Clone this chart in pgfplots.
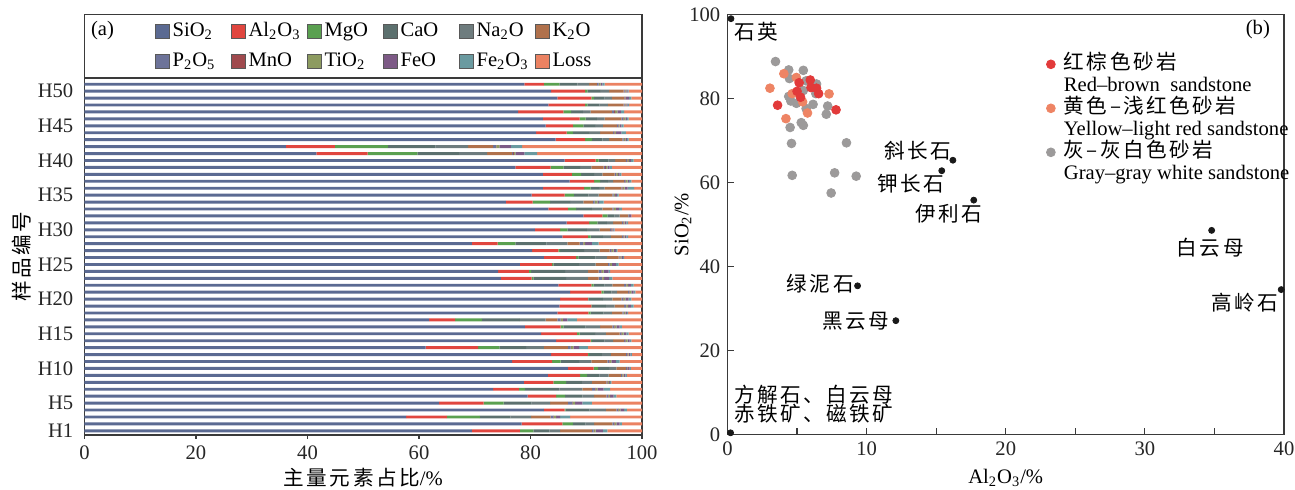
\documentclass[border=0pt]{standalone}
\usepackage{fontspec}
\setmainfont{Liberation Serif}
\newfontfamily\cjk{Noto Sans CJK SC}[LetterSpace=12]
\usepackage{pgfplots}
\pgfplotsset{compat=1.18}
\usepackage{pgfplotstable}

\definecolor{cSi}{HTML}{5B6A92}
\definecolor{cAl}{HTML}{E0463F}
\definecolor{cMg}{HTML}{5AA050}
\definecolor{cCa}{HTML}{5C706E}
\definecolor{cNa}{HTML}{6E7C7E}
\definecolor{cK}{HTML}{B0714C}
\definecolor{cP}{HTML}{6D7399}
\definecolor{cMn}{HTML}{A04A4E}
\definecolor{cTi}{HTML}{8D9B60}
\definecolor{cFeO}{HTML}{7D5A86}
\definecolor{cFe}{HTML}{6A9AA0}
\definecolor{cLoss}{HTML}{EB8262}
\definecolor{pRed}{HTML}{E23A3A}
\definecolor{pOra}{HTML}{EE8464}
\definecolor{pGry}{HTML}{9C9A9A}
\definecolor{axc}{HTML}{3A3A3A}

\pgfplotstableread{
idx Si Al Mg Ca Na K P Mn Ti FeO Fe Loss
1 69.5 8.6 2.4 2.9 1.9 5.7 0.3 0.1 0.3 1.3 0.8 6.2
2 78.4 7.3 1.9 2.3 1.5 3.3 0.3 0.1 0.3 0.6 0.4 3.6
3 57.7 7.3 5.9 5.5 3.7 3.5 0.5 0.1 0.4 0.7 1.8 12.9
4 82.4 3.7 0.2 4.3 2.9 1.9 0.3 0.1 0.3 0.7 0.5 2.7
5 63.6 8.0 3.6 5.0 3.3 3.2 0.8 0.1 0.4 1.3 1.7 9.0
6 79.5 5.1 1.6 3.1 2.1 2.2 0.3 0.1 0.3 0.6 0.5 4.6
7 73.3 4.6 1.1 6.2 4.1 1.7 0.6 0.1 0.3 1.1 1.2 5.7
8 78.8 5.3 2.3 2.8 1.8 2.6 0.2 0.1 0.2 0.2 0.2 5.5
9 83.1 5.8 1.2 2.3 1.6 2.2 0.2 0.1 0.2 0.3 0.3 2.7
10 86.7 4.6 0.8 2.0 1.3 1.7 0.2 0.1 0.1 0.3 0.2 2.0
11 76.7 7.2 1.5 3.3 2.2 2.9 0.3 0.1 0.3 0.8 0.7 4.0
12 83.7 6.6 0.2 2.3 1.6 2.7 0.2 0.1 0.2 0.3 0.3 1.8
13 61.2 9.4 3.8 4.8 3.2 4.3 0.5 0.1 0.4 1.0 1.6 9.7
14 84.6 6.2 0.2 2.3 1.5 2.0 0.2 0.1 0.3 0.4 0.3 1.9
15 81.9 6.4 0.5 2.8 1.9 2.5 0.3 0.1 0.3 0.5 0.4 2.4
16 79.0 6.4 0.5 4.0 2.6 2.2 0.3 0.1 0.3 0.6 0.4 3.6
17 61.8 4.7 4.8 6.8 4.6 2.1 0.6 0.1 0.3 0.8 1.7 11.7
18 84.8 5.6 0.4 2.3 1.5 1.9 0.2 0.1 0.2 0.3 0.2 2.5
19 85.2 5.7 0.1 2.5 1.6 1.7 0.3 0.1 0.3 0.5 0.5 1.5
20 85.3 5.0 0.1 2.6 1.7 1.6 0.3 0.1 0.3 0.6 0.5 1.9
21 87.1 5.6 0.4 1.4 1.0 2.0 0.2 0.1 0.3 0.4 0.3 1.2
22 85.0 5.9 0.4 2.0 1.4 2.1 0.3 0.1 0.3 0.5 0.5 1.5
23 74.7 5.5 0.3 5.9 3.9 1.9 0.6 0.1 0.3 0.9 0.6 5.3
24 74.2 5.5 0.4 6.1 4.1 1.9 0.5 0.1 0.3 0.9 0.3 5.7
25 78.1 5.8 0.2 4.6 3.0 2.2 0.3 0.1 0.3 0.7 0.5 4.2
26 82.4 5.8 0.4 3.1 2.0 2.1 0.2 0.1 0.2 0.3 0.2 3.2
27 80.3 4.7 0.3 4.3 2.8 1.8 0.3 0.1 0.3 0.4 0.3 4.4
28 69.5 4.6 3.2 5.6 3.7 2.2 0.6 0.1 0.3 1.2 1.2 7.8
29 85.7 4.6 0.5 2.2 1.4 2.0 0.2 0.1 0.2 0.3 0.3 2.5
30 80.8 4.5 1.3 3.5 2.3 1.9 0.2 0.1 0.1 0.2 0.2 4.9
31 86.5 4.0 1.5 1.7 1.1 1.6 0.2 0.1 0.2 0.3 0.3 2.5
32 89.5 3.4 0.9 1.3 0.9 1.5 0.1 0.0 0.1 0.4 0.0 1.9
33 83.2 3.5 1.5 2.8 1.9 1.8 0.2 0.1 0.3 0.6 0.5 3.6
34 75.6 4.8 3.1 3.6 2.4 1.7 0.3 0.1 0.4 0.3 0.8 6.9
35 80.2 5.9 1.7 2.6 1.8 2.5 0.2 0.1 0.2 0.3 0.3 4.2
36 82.2 7.4 1.2 1.5 1.0 3.0 0.2 0.1 0.3 0.5 1.2 1.4
37 87.0 4.4 1.1 1.4 0.9 2.0 0.2 0.1 0.3 0.3 0.4 1.9
38 82.2 5.2 1.7 2.3 1.5 2.2 0.2 0.1 0.3 0.3 0.3 3.7
39 77.3 6.3 2.3 3.0 2.0 2.2 0.3 0.1 0.3 0.4 0.4 5.4
40 86.1 5.6 0.5 1.8 1.2 1.9 0.2 0.1 0.3 0.3 0.5 1.5
41 41.6 9.2 8.9 7.5 5.0 4.5 0.2 0.1 0.3 1.6 2.3 18.8
42 36.1 8.8 9.5 8.6 5.8 4.5 0.5 0.1 0.5 2.1 2.0 21.5
43 84.5 5.3 1.2 1.9 1.2 2.4 0.2 0.1 0.2 0.3 0.3 2.4
44 81.0 5.5 1.1 2.9 2.0 2.3 0.2 0.1 0.2 1.0 0.8 2.9
45 82.7 4.9 1.9 2.1 1.4 2.5 0.2 0.1 0.2 0.3 0.4 3.3
46 82.2 6.6 1.1 2.0 1.4 3.0 0.3 0.1 0.3 0.3 0.3 2.4
47 77.8 8.1 1.4 2.1 1.4 3.8 0.4 0.2 0.4 0.6 0.6 3.2
48 83.2 6.6 0.4 2.2 1.5 2.8 0.2 0.1 0.2 0.2 0.3 2.3
49 84.8 6.1 0.5 1.9 1.3 2.2 0.1 0.1 0.1 0.6 0.4 1.9
50 83.7 6.1 0.4 2.3 1.6 2.6 0.2 0.1 0.2 0.2 0.2 2.4
51 78.9 3.5 2.8 3.2 2.1 1.4 0.3 0.1 0.3 0.3 0.4 6.7
}\dataA

\pgfplotstableread{
x y
5.15 83.75
5.95 84.4
6.00 82.6
6.40 82.45
6.55 81.15
5.00 81.7
5.25 80.3
3.60 78.4
7.80 77.3
}\redpts

\pgfplotstableread{
x y
4.05 85.9
4.95 85.0
3.05 82.45
4.65 81.15
7.30 81.1
5.40 79.2
5.75 76.55
4.20 75.2
}\orapts

\pgfplotstableread{
x y
3.45 88.8
4.40 86.8
5.45 86.7
4.45 84.75
5.65 84.2
6.40 83.45
5.45 81.9
6.35 81.15
4.40 80.5
4.55 79.4
4.95 78.85
6.15 78.6
5.65 77.6
7.20 78.2
7.10 76.25
5.30 74.25
5.45 73.6
4.50 73.1
4.60 69.3
8.55 69.45
4.65 61.7
7.70 62.3
9.25 61.5
7.45 57.5
}\grypts

\pgfplotstableread{
x y
0.25 99.0
16.2 65.3
15.4 62.8
17.7 55.8
34.8 48.6
39.8 34.5
9.35 35.4
12.1 27.1
0.22 0.4
}\minpts

\pgfplotsset{
  sq/.style={legend image code/.code={\draw[##1, draw=black!65, line width=0.4pt] (0pt,-3.4pt) rectangle (6.8pt,3.4pt);}},
}

\begin{document}
\fontsize{10.3}{12.4}\selectfont
\begin{tikzpicture}
\useasboundingbox (-42.25pt,-27.5pt) rectangle (605.25pt,217.5pt);

% ---------------- panel (a) ----------------
\begin{axis}[
  at={(0pt,0pt)}, anchor=south west,
  scale only axis, width=278.75pt, height=178.5pt,
  clip=false,
  xbar stacked, bar width=0.42,
  xmin=0, xmax=100, ymin=0.4, ymax=51.9,
  xtick={0,20,...,100},
  ytick={1,5,10,15,20,25,30,35,40,45,50},
  yticklabels={H1,H5,H10,H15,H20,H25,H30,H35,H40,H45,H50},
  tick pos=left, tick align=outside, major tick length=2pt,
  ytick style={draw=none},
  xtick style={axc, line width=0.6pt},
  axis line style={axc, line width=0.7pt},
  /pgf/number format/assume math mode=true,
  tick label style={black!85},
  xlabel={{\cjk 主量元素占比}/\%},
  xlabel style={at={(axis description cs:0.5,-0.1204)}, anchor=center},
  ylabel={{\cjk 样品编号}},
  ylabel style={at={(axis description cs:-0.112,0.5)}, anchor=center},
  legend columns=6,
  legend style={draw=none, fill=none, at={(0.1261,1.1639)}, anchor=north west,
    inner sep=0pt, column sep=0pt, row sep=3.5pt,
    nodes={text width=27.8pt, align=left, text height=8pt, text depth=2.5pt,
      inner xsep=1.5pt, inner ysep=0.5pt}},
]
\addplot[fill=cSi, draw=none, sq] table[x=Si, y=idx]{\dataA};
\addplot[fill=cAl, draw=none, sq] table[x=Al, y=idx]{\dataA};
\addplot[fill=cMg, draw=none, sq] table[x=Mg, y=idx]{\dataA};
\addplot[fill=cCa, draw=none, sq] table[x=Ca, y=idx]{\dataA};
\addplot[fill=cNa, draw=none, sq] table[x=Na, y=idx]{\dataA};
\addplot[fill=cK, draw=none, sq] table[x=K, y=idx]{\dataA};
\addplot[fill=cP, draw=none, sq] table[x=P, y=idx]{\dataA};
\addplot[fill=cMn, draw=none, sq] table[x=Mn, y=idx]{\dataA};
\addplot[fill=cTi, draw=none, sq] table[x=Ti, y=idx]{\dataA};
\addplot[fill=cFeO, draw=none, sq] table[x=FeO, y=idx]{\dataA};
\addplot[fill=cFe, draw=none, sq] table[x=Fe, y=idx]{\dataA};
\addplot[fill=cLoss, draw=none, sq] table[x=Loss, y=idx]{\dataA};
\legend{SiO\textsubscript{2}, Al\textsubscript{2}O\textsubscript{3}, MgO, CaO, Na\textsubscript{2}O, K\textsubscript{2}O,
  P\textsubscript{2}O\textsubscript{5}, MnO, TiO\textsubscript{2}, FeO, Fe\textsubscript{2}O\textsubscript{3}, Loss}
\draw[axc, line width=0.7pt] (rel axis cs:0,1) rectangle (rel axis cs:1,1.1779);
\node[anchor=west, inner sep=0pt] at (rel axis cs:0.011,1.1317) {(a)};
\end{axis}

% ---------------- panel (b) ----------------
\begin{axis}[
  at={(321.5pt,0.25pt)}, anchor=south west,
  scale only axis, width=278.25pt, height=210pt,
  clip=false,
  xmin=0, xmax=40, ymin=0, ymax=100,
  xtick={0,10,...,40}, minor xtick={5,15,25,35},
  ytick={0,20,...,100},
  tick pos=left, tick align=inside,
  major tick length=3pt, minor tick length=3pt,
  every tick/.style={axc, line width=0.6pt},
  axis line style={axc, line width=0.7pt},
  /pgf/number format/assume math mode=true,
  tick label style={black!85},
  xlabel={Al\textsubscript{2}O\textsubscript{3}/\%},
  xlabel style={at={(axis description cs:0.5,-0.1036)}, anchor=center},
  ylabel={SiO\textsubscript{2}/\%},
  ylabel style={at={(axis description cs:-0.08,0.5)}, anchor=center},
  legend cell align=left,
  legend image code/.code={\draw[#1] plot coordinates {(0pt,0pt)};},
  legend style={draw=none, fill=none, at={(0.5725,0.9085)}, anchor=north west,
    inner sep=0pt, column sep=2.3pt, row sep=0pt,
    nodes={inner xsep=2pt, inner ysep=0.25pt, text height=8pt, text depth=2.5pt, anchor=west}},
]
\addplot[only marks, mark=*, mark size=2.2pt, color=pGry, forget plot] table{\grypts};
\addplot[only marks, mark=*, mark size=2.2pt, color=pOra, forget plot] table{\orapts};
\addplot[only marks, mark=*, mark size=2.2pt, color=pRed, forget plot] table{\redpts};
\addplot[only marks, mark=*, mark size=1.5pt, color=black!90, forget plot] table{\minpts};

\addlegendimage{only marks, mark=*, mark size=2.2pt, color=pRed}
\addlegendentry{\cjk 红棕色砂岩}
\addlegendimage{empty legend}
\addlegendentry{Red–brown\ \ sandstone}
\addlegendimage{only marks, mark=*, mark size=2.2pt, color=pOra}
\addlegendentry{\cjk 黄色–浅红色砂岩}
\addlegendimage{empty legend}
\addlegendentry{Yellow–light red sandstone}
\addlegendimage{only marks, mark=*, mark size=2.2pt, color=pGry}
\addlegendentry{\cjk 灰–灰白色砂岩}
\addlegendimage{empty legend}
\addlegendentry{Gray–gray white sandstone}

\node[font=\cjk] at (axis cs:2.1,96.0) {石英};
\node[font=\cjk] at (axis cs:13.7,67.6) {斜长石};
\node[font=\cjk] at (axis cs:13.2,59.7) {钾长石};
\node[font=\cjk] at (axis cs:15.9,52.5) {伊利石};
\node[font=\cjk] at (axis cs:34.7,44.5) {白云母};
\node[font=\cjk] at (axis cs:37.2,31.3) {高岭石};
\node[font=\cjk] at (axis cs:6.67,35.8) {绿泥石};
\node[font=\cjk] at (axis cs:9.2,27.1) {黑云母};
\node[anchor=west, align=left, inner sep=0pt, font={\cjk\fontsize{10.3}{9.6}\selectfont}] at (axis cs:0.45,7.3) {方解石、白云母\\赤铁矿、磁铁矿};
\node at (rel axis cs:0.953,0.963) {(b)};
\end{axis}
\end{tikzpicture}
\end{document}
